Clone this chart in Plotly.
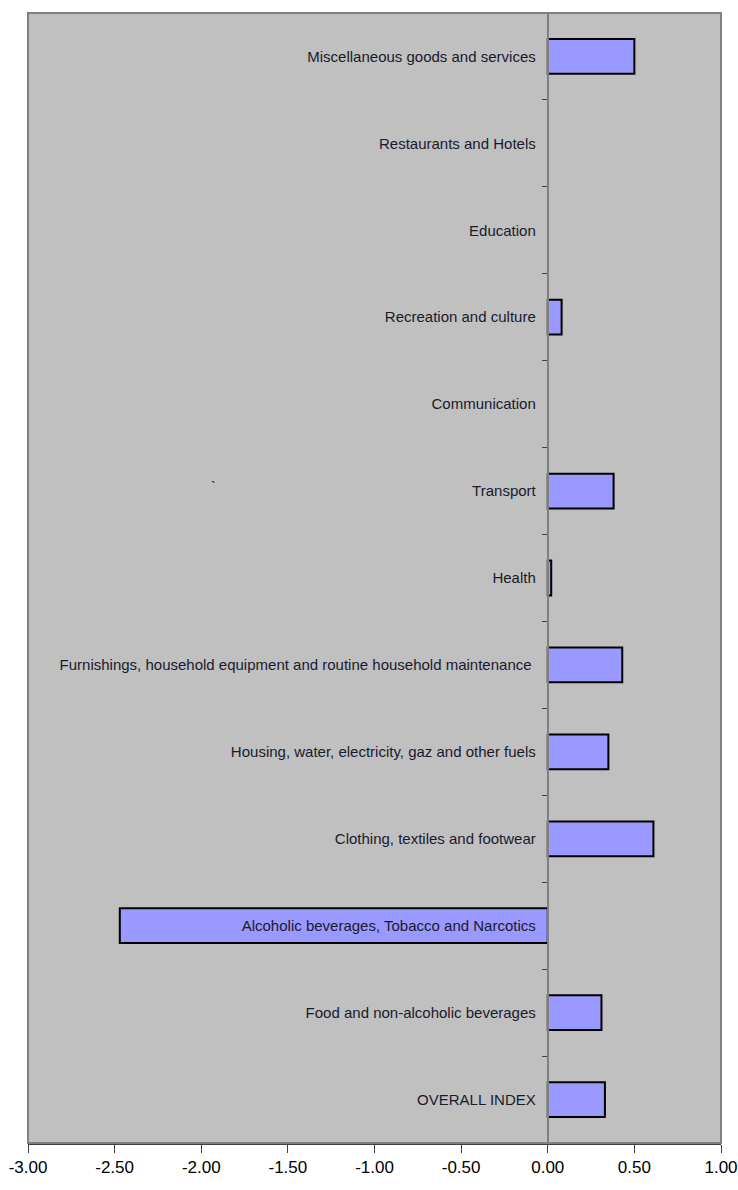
import plotly.graph_objects as go

categories = [
    "OVERALL INDEX",
    "Food and non-alcoholic beverages",
    "Alcoholic beverages, Tobacco and Narcotics",
    "Clothing, textiles and footwear",
    "Housing, water, electricity, gaz and other fuels",
    "Furnishings, household equipment and routine household maintenance ",
    "Health",
    "Transport",
    "Communication",
    "Recreation and culture",
    "Education",
    "Restaurants and Hotels",
    "Miscellaneous goods and services",
]
values = [0.33, 0.31, -2.47, 0.61, 0.35, 0.43, 0.02, 0.38, 0.0, 0.08, 0.0, 0.0, 0.50]
x_ticks = [-3.0, -2.5, -2.0, -1.5, -1.0, -0.5, 0.0, 0.5, 1.0]
x_tick_labels = ["-3.00", "-2.50", "-2.00", "-1.50", "-1.00", "-0.50", "0.00", "0.50", "1.00"]

FONT = "Liberation Sans, Arial, sans-serif"

line_widths = [2 if v != 0 else 0 for v in values]

fig = go.Figure()
fig.add_trace(go.Bar(
    y=categories,
    x=values,
    orientation="h",
    marker=dict(color="#9999FF", line=dict(color="black", width=line_widths)),
    hoverinfo="x+y",
))

fig.add_annotation(x=-1.93, y="Transport", text="`", showarrow=False,
                   font=dict(family=FONT, size=14, color="black"), yshift=4)

fig.add_shape(type="rect", xref="paper", yref="paper", x0=0, x1=1, y0=0, y1=1,
              line=dict(color="#808080", width=2), layer="above")

fig.update_layout(
    width=738, height=1190,
    margin=dict(l=28, r=17, t=13, b=47),
    paper_bgcolor="white",
    plot_bgcolor="#C0C0C0",
    showlegend=False,
    bargap=0.6,
    font=dict(family=FONT, size=15, color="black"),
    xaxis=dict(
        range=[-3, 1],
        tickvals=x_ticks,
        ticktext=x_tick_labels,
        showgrid=False,
        zeroline=False,
        showline=True,
        linecolor="#404040",
        linewidth=2,
        ticks="outside",
        ticklen=8,
        tickcolor="#404040",
        automargin=False,
        tickfont=dict(family=FONT, size=17, color="black"),
    ),
    yaxis=dict(
        type="category",
        categoryorder="array",
        categoryarray=categories,
        anchor="free",
        position=0.75,
        showgrid=False,
        zeroline=False,
        showline=True,
        linecolor="#808080",
        linewidth=2,
        ticks="outside",
        ticklen=5,
        tickcolor="#404040",
        tickson="boundaries",
        ticklabelstandoff=8,
        automargin=False,
        tickfont=dict(family=FONT, size=15, color="#1a1a2e"),
        layer="above traces",
    ),
)

fig.write_html("out.html")
